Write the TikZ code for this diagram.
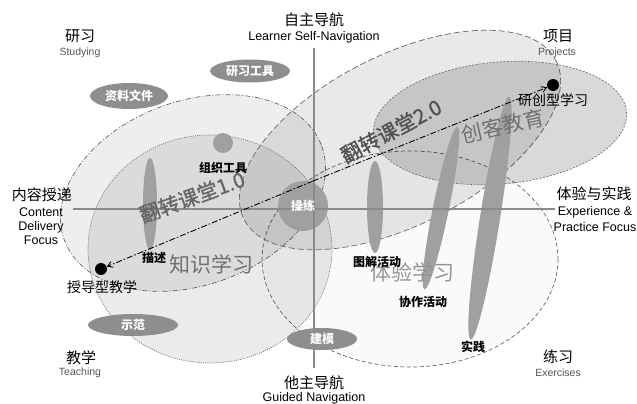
\documentclass[tikz,border=0pt]{standalone}
\usepackage{fontspec}
\setmainfont{Liberation Sans}
\newfontfamily\cjk{Noto Sans CJK SC}
\newfontfamily\cjksemi[FakeBold=1.2]{Noto Sans CJK SC}
\usetikzlibrary{arrows.meta}
\definecolor{axisgray}{HTML}{8A8A8A}
\definecolor{blobgray}{HTML}{A0A0A0}
\definecolor{pillgray}{HTML}{8E8E8E}
\definecolor{biggray}{HTML}{707070}
\definecolor{engray}{HTML}{555555}
\begin{document}
\begin{tikzpicture}[x=1pt,y=-1pt,
  zoneA/.style={fill=black,fill opacity=0.065,draw=black!60,line width=0.7pt,dash pattern=on 5pt off 2pt on 1pt off 2pt},
  zoneB/.style={fill=black,fill opacity=0.08,draw=black!55,line width=0.7pt,dash pattern=on 1pt off 1.2pt},
  zoneC/.style={fill=black,fill opacity=0.02,draw=black!60,line width=0.7pt,dash pattern=on 4pt off 2.5pt},
  zoneD/.style={fill=black,fill opacity=0.085,draw=black!60,line width=0.7pt,dash pattern=on 6pt off 3pt},
  zoneE/.style={fill=black,fill opacity=0.15,draw=black!55,line width=0.7pt,dash pattern=on 2pt off 1.5pt},
  blob/.style={fill=blobgray,draw=none},
  pill/.style={fill=pillgray,draw=none},
  axisline/.style={draw=axisgray,line width=2pt},
  link/.style={draw=black,line width=0.9pt,dash pattern=on 6pt off 2pt on 1.5pt off 2pt,-{Straight Barb[length=5pt,width=6pt]}},
  dotnode/.style={circle,fill=black,minimum size=12pt,inner sep=0pt},
  cn/.style={font=\cjk\fontsize{15}{15}\selectfont,inner sep=0pt},
  cnm/.style={font=\cjk\fontsize{14}{14}\selectfont,inner sep=0pt},
  en/.style={font=\fontsize{12.5}{14}\selectfont,inner sep=0pt,align=center},
  ensm/.style={font=\fontsize{10.5}{11}\selectfont,text=engray,inner sep=0pt},
  bigtext/.style={font=\cjk\fontsize{21}{21}\selectfont,text=biggray,inner sep=0pt},
  bigsemi/.style={font=\cjksemi\fontsize{20.5}{20.5}\selectfont,inner sep=0pt},
  boldtext/.style={font=\cjk\bfseries\fontsize{12}{12}\selectfont,inner sep=0pt},
  pilltext/.style={font=\cjk\bfseries\fontsize{12}{12}\selectfont,text=white,inner sep=0pt}
]
\useasboundingbox (0,0) rectangle (637,404);

% zones
\draw[zoneC] (410,259) ellipse [x radius=148, y radius=108];
\draw[zoneA, rotate around={20:(193,193)}] (193,193) ellipse [x radius=137, y radius=92];
\draw[zoneB] (210,249) ellipse [x radius=122, y radius=114];
\draw[zoneD, rotate around={27:(400,140)}] (400,140) ellipse [x radius=175, y radius=85];
\draw[zoneE, rotate around={5:(500,123)}] (500,123) ellipse [x radius=127, y radius=61];

% blobs and pills
\draw[pill] (129,96) ellipse [x radius=39, y radius=13];
\draw[pill] (250,71) ellipse [x radius=40, y radius=11.5];
\draw[pill] (133,325) ellipse [x radius=45, y radius=11];
\draw[pill] (322,339) ellipse [x radius=35, y radius=11];
\draw[blob] (223,143) circle [radius=10];
\draw[blob] (303,206) circle [radius=25];
\draw[blob] (150,204) ellipse [x radius=7, y radius=46];
\draw[blob] (375,207) ellipse [x radius=8, y radius=46];
\draw[blob, rotate around={-11.5:(441,208)}] (441,208) ellipse [x radius=8, y radius=83];
\draw[blob, rotate around={-9:(490,218)}] (490,218) ellipse [x radius=10, y radius=123];

% axes
\coordinate (ytop) at (314,48);
\coordinate (ybot) at (314,368);
\coordinate (xleft) at (73,209);
\coordinate (xright) at (555,209);
\draw[axisline] (ytop) -- (ybot);
\draw[axisline] (xleft) -- (xright);

% connectors
\coordinate (hub) at (313,181);
\node[dotnode] (teachdot) at (101,269) {};
\node[dotnode] (projdot) at (553,85) {};
\draw[link] (hub) -- (teachdot);
\draw[link] (hub) -- (projdot);

% pill texts
\node[pilltext] (ziliao) at (129,96) {资料文件};
\node[pilltext] (yanxigj) at (250,71) {研习工具};
\node[pilltext] (shifan) at (133,325) {示范};
\node[pilltext] (jianmo) at (322,339) {建模};
\node[pilltext] (caolian) at (303,206) {操练};

% big gray texts
\node[bigsemi, rotate=20, text=black!60] (fz1) at (192,197) {翻转课堂1.0};
\node[bigsemi, rotate=28, text=black!68] (fz2) at (391,131) {翻转课堂2.0};
\node[bigtext, rotate=13] (chuangke) at (503,126) {创客教育};
\node[bigtext] (zhishi) at (211,264) {知识学习};
\node[bigtext, text=black!42] (tiyan) at (412,272) {体验学习};

% bold black texts
\node[boldtext] (zuzhi) at (223,168) {组织工具};
\node[boldtext] (miaoshu) at (154,258) {描述};
\node[boldtext] (tujie) at (377,262) {图解活动};
\node[boldtext] (xiezuo) at (423,302) {协作活动};
\node[boldtext] (shijian) at (473,347) {实践};
\node[cnm] (yanchuang) at (553,100) {研创型学习};
\node[cnm] (shoudao) at (102,287) {授导型教学};

% corner and axis labels
\node[cn] (yanxi) at (80,36.5) {研习};
\node[ensm] (studying) at (80,52.5) {Studying};
\node[cn] (zizhu) at (314,20) {自主导航};
\node[en] (selfnav) at (314,37) {Learner Self-Navigation};
\node[cn] (xiangmu) at (558,36.5) {项目};
\node[ensm] (projects) at (557,52.5) {Projects};
\node[cn] (neirong) at (42,195) {内容授递};
\node[en] (content) at (41,226) {Content\\Delivery\\Focus};
\node[cn] (tiyansj) at (594,194) {体验与实践};
\node[en, font=\fontsize{12.5}{16}\selectfont] (experience) at (595,219) {Experience \&\\Practice Focus};
\node[cn] (jiaoxue) at (81,357.5) {教学};
\node[ensm] (teaching) at (80,373) {Teaching};
\node[cn] (tazhu) at (314,383) {他主导航};
\node[en] (guided) at (314,398.5) {Guided Navigation};
\node[cn] (lianxi) at (558,357) {练习};
\node[ensm] (exercises) at (558,373) {Exercises};
\end{tikzpicture}
\end{document}
